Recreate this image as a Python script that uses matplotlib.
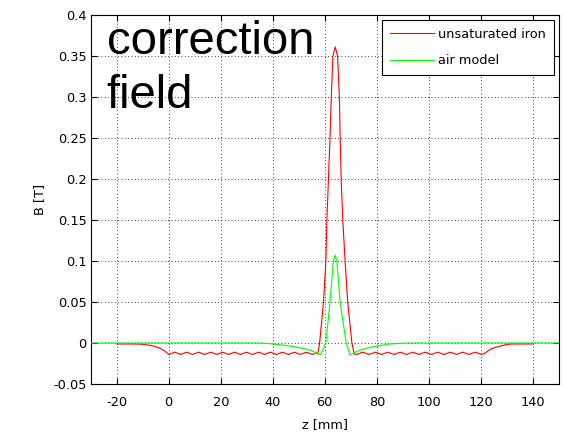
import matplotlib
matplotlib.use("Agg")
import matplotlib.pyplot as plt

# ---- data ----
iron_label = "unsaturated iron"
air_label = "air model"

# red curve: unsaturated iron
iron_z_lead = [-20.0, -15.0, -10.8, -7.2, -5.0, -3.3, -1.5]
iron_B_lead = [-0.0012, -0.0012, -0.0014, -0.0028, -0.0045, -0.0065, -0.0100]

iron_z_osc1 = [0.0, 2.3, 4.6, 6.9, 9.2, 11.5, 13.8, 16.1, 18.4, 20.7, 23.0, 25.3,
               27.6, 29.9, 32.2, 34.5, 36.8, 39.1, 41.4, 43.7, 46.0, 48.3, 50.6,
               52.9, 55.2]
iron_B_osc1 = [-0.0140, -0.0112, -0.0140, -0.0112, -0.0140, -0.0112, -0.0140,
               -0.0112, -0.0140, -0.0112, -0.0140, -0.0112, -0.0140, -0.0112,
               -0.0140, -0.0112, -0.0140, -0.0112, -0.0140, -0.0112, -0.0140,
               -0.0112, -0.0140, -0.0112, -0.0140]

iron_z_peak = [56.5, 57.3, 58.0, 59.5, 60.4, 60.8, 61.4, 62.0, 62.5, 63.1, 64.0,
               64.9, 65.6, 65.9, 66.3, 66.9, 67.8, 68.8, 70.4, 71.3]
iron_B_peak = [-0.0120, -0.0135, 0.0, 0.05, 0.10, 0.15, 0.20, 0.25, 0.30, 0.35,
               0.361, 0.35, 0.30, 0.25, 0.20, 0.15, 0.10, 0.05, 0.0, -0.0135]

iron_z_osc2 = [72.2, 74.6, 77.0, 79.4, 81.8, 84.2, 86.6, 89.0, 91.4, 93.8, 96.2,
               98.6, 101.0, 103.4, 105.8, 108.2, 110.6, 113.0, 115.4, 117.8, 120.2]
iron_B_osc2 = [-0.0140, -0.0112, -0.0140, -0.0112, -0.0140, -0.0112, -0.0140,
               -0.0112, -0.0140, -0.0112, -0.0140, -0.0112, -0.0140, -0.0112,
               -0.0140, -0.0112, -0.0140, -0.0112, -0.0140, -0.0112, -0.0140]

iron_z_tail = [121.5, 123.6, 125.5, 127.4, 129.5, 131.3, 134.0, 140.0]
iron_B_tail = [-0.0125, -0.0077, -0.0055, -0.0037, -0.0022, -0.0013, -0.0012, -0.0012]

# green curve: air model
air_z = [-30.0, 35.0, 40.0, 45.0, 50.0, 54.0, 56.5, 58.3, 59.3, 60.4, 62.0,
         63.3, 64.0, 64.6, 65.9, 68.2, 69.7, 71.5, 73.6, 78.6, 85.0, 92.0, 150.0]
air_B = [0.0, 0.0, -0.0012, -0.0030, -0.0055, -0.0085, -0.0115, -0.0145,
         -0.0080, 0.0, 0.05, 0.10, 0.107, 0.10, 0.05, 0.0, -0.0148, -0.0115,
         -0.0085, -0.0045, -0.0012, 0.0, 0.0]

x_ticks = [-20, 0, 20, 40, 60, 80, 100, 120, 140]
y_ticks = [-0.05, 0, 0.05, 0.1, 0.15, 0.2, 0.25, 0.3, 0.35, 0.4]
y_ticklabels = ["-0.05", "0", "0.05", "0.1", "0.15", "0.2", "0.25", "0.3", "0.35", "0.4"]

iron_z = iron_z_lead + iron_z_osc1 + iron_z_peak + iron_z_osc2 + iron_z_tail
iron_B = iron_B_lead + iron_B_osc1 + iron_B_peak + iron_B_osc2 + iron_B_tail

# ---- figure ----
plt.rcParams['font.family'] = ['DejaVu Sans']
plt.rcParams['axes.unicode_minus'] = False
fig = plt.figure(figsize=(5.64, 4.33), dpi=100)
fig.patch.set_facecolor("white")
ax = fig.add_axes([0.1608, 0.1132, 0.8302, 0.8522])

ax.plot(iron_z, iron_B, color=(1, 0, 0), lw=0.8, label=iron_label, zorder=3)
ax.plot(air_z, air_B, color=(0, 1, 0), lw=0.8, label=air_label, zorder=3)

ax.set_xlim(-30, 150)
ax.set_ylim(-0.05, 0.4)
ax.set_xticks(x_ticks)
ax.set_xticklabels([str(t) for t in x_ticks])
ax.set_yticks(y_ticks)
ax.set_yticklabels(y_ticklabels)

ax.tick_params(axis='both', direction='in', length=4.5, width=0.8,
               top=True, right=True, labelsize=9.3, colors='black')
ax.tick_params(axis='x', pad=8.5)
ax.tick_params(axis='y', pad=3)
for s in ax.spines.values():
    s.set_linewidth(0.8)
    s.set_color('black')

ax.grid(True, color='black', linestyle=(0, (1, 3)), linewidth=0.6)
ax.set_axisbelow(True)

ax.set_xlabel("z [mm]", fontsize=9.3, labelpad=7)
ax.set_ylabel("B [T]", fontsize=9.3, labelpad=5)

ax.text(-23.9, 0.352, "correction", fontsize=34, family=['Liberation Sans', 'DejaVu Sans'],
        va='baseline', ha='left', zorder=4)
ax.text(-23.9, 0.286, "field", fontsize=34, family=['Liberation Sans', 'DejaVu Sans'],
        va='baseline', ha='left', zorder=4)

leg = ax.legend(loc='upper right', fontsize=9.3, handlelength=3.4, handletextpad=0.35,
                labelspacing=1.05, borderpad=0.6, borderaxespad=0.4, fancybox=False,
                framealpha=1, edgecolor='black')
leg.get_frame().set_linewidth(0.8)

fig.savefig("out.png", dpi=100, facecolor="white")
